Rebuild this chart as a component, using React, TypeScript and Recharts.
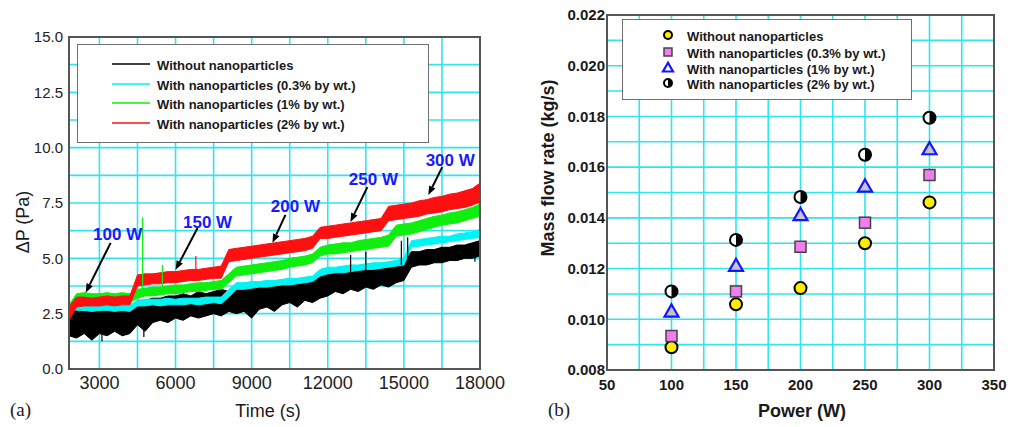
import React from 'react';
import {
  ComposedChart,
  ScatterChart,
  Scatter,
  Area,
  XAxis,
  YAxis,
  CartesianGrid,
  ReferenceLine,
  ReferenceDot,
  ReferenceArea,
  Legend,
} from 'recharts';

const FONT = '"Liberation Sans", Arial, Helvetica, sans-serif';
const GRID = '#2ee6ee';
const FRAME = '#555555';

// ---------------- Panel (a): pressure drop vs time ----------------
const times = [1800, 2100, 2400, 2700, 3000, 3300, 3600, 3900, 4200, 4500, 4800, 5100, 5400, 5700, 6000, 6300, 6600, 6900, 7200, 7500, 7800, 8100, 8400, 8700, 9000, 9300, 9600, 9900, 10200, 10500, 10800, 11100, 11400, 11700, 12000, 12300, 12600, 12900, 13200, 13500, 13800, 14100, 14400, 14700, 15000, 15300, 15600, 15900, 16200, 16500, 16800, 17100, 17400, 17700, 18000];

const blackLo = [1.5, 1.4, 1.6, 1.3, 1.6, 1.5, 1.7, 1.5, 1.6, 2.0, 1.7, 2.1, 2.2, 2.1, 2.3, 2.2, 2.4, 2.3, 2.4, 2.5, 2.4, 2.6, 2.5, 2.6, 2.3, 2.7, 2.8, 2.6, 2.9, 3.0, 2.8, 3.1, 3.0, 3.2, 3.3, 3.5, 3.4, 3.6, 3.5, 3.7, 3.6, 3.8, 3.7, 3.9, 4.0, 4.6, 4.7, 4.7, 4.8, 4.8, 4.9, 4.9, 5.0, 5.0, 5.1];
const blackHi = [2.6, 2.7, 2.6, 2.7, 2.6, 2.7, 2.7, 2.6, 2.7, 3.1, 3.1, 3.2, 3.2, 3.3, 3.3, 3.4, 3.3, 3.5, 3.4, 3.5, 3.6, 3.5, 3.6, 3.6, 3.7, 3.7, 3.8, 3.8, 3.9, 3.9, 4.0, 4.0, 4.1, 4.2, 4.3, 4.4, 4.4, 4.5, 4.5, 4.6, 4.6, 4.7, 4.8, 4.8, 4.9, 5.3, 5.3, 5.4, 5.4, 5.5, 5.5, 5.6, 5.6, 5.7, 5.8];

const cyanLo = [2.7, 2.65, 2.65, 2.6, 2.65, 2.65, 2.6, 2.65, 2.6, 2.85, 2.85, 2.9, 2.85, 2.9, 2.9, 2.9, 2.95, 2.9, 2.95, 3.0, 2.95, 3.25, 3.6, 3.6, 3.65, 3.7, 3.7, 3.75, 3.8, 3.8, 3.85, 3.9, 3.95, 4.2, 4.3, 4.35, 4.35, 4.4, 4.45, 4.5, 4.5, 4.55, 4.6, 4.65, 4.7, 5.5, 5.55, 5.6, 5.65, 5.7, 5.75, 5.8, 5.85, 5.9, 5.95];
const cyanHi = [3.0, 2.95, 2.95, 2.9, 2.95, 2.95, 2.9, 2.95, 2.9, 3.1, 3.15, 3.15, 3.15, 3.2, 3.15, 3.2, 3.2, 3.2, 3.25, 3.25, 3.25, 3.6, 3.9, 3.9, 3.95, 3.95, 4.0, 4.0, 4.05, 4.1, 4.1, 4.15, 4.2, 4.5, 4.6, 4.6, 4.65, 4.7, 4.7, 4.75, 4.8, 4.8, 4.85, 4.9, 5.0, 5.8, 5.85, 5.9, 5.95, 6.0, 6.0, 6.1, 6.15, 6.2, 6.3];

const greenLo = [2.3, 2.9, 3.0, 3.0, 3.0, 3.05, 3.0, 3.05, 3.0, 3.2, 3.3, 3.3, 3.35, 3.4, 3.4, 3.45, 3.5, 3.5, 3.55, 3.6, 3.6, 3.9, 4.2, 4.25, 4.3, 4.35, 4.4, 4.45, 4.5, 4.6, 4.65, 4.7, 4.8, 5.1, 5.2, 5.2, 5.25, 5.3, 5.35, 5.4, 5.45, 5.5, 5.55, 6.0, 6.05, 6.1, 6.2, 6.3, 6.4, 6.5, 6.55, 6.6, 6.7, 6.8, 6.9];
const greenHi = [2.9, 3.4, 3.45, 3.4, 3.4, 3.45, 3.4, 3.45, 3.4, 3.6, 3.65, 3.7, 3.7, 3.75, 3.8, 3.8, 3.85, 3.9, 3.9, 3.95, 4.0, 4.3, 4.6, 4.65, 4.7, 4.75, 4.8, 4.85, 4.9, 5.0, 5.05, 5.1, 5.2, 5.5, 5.6, 5.65, 5.7, 5.7, 5.8, 5.85, 5.9, 5.95, 6.05, 6.5, 6.55, 6.6, 6.7, 6.8, 6.9, 6.95, 7.05, 7.1, 7.2, 7.3, 7.45];

const redLo = [2.2, 2.8, 2.85, 2.85, 2.85, 2.9, 2.85, 2.9, 2.9, 3.75, 3.8, 3.85, 3.85, 3.9, 3.9, 3.95, 4.0, 4.0, 4.05, 4.1, 4.1, 4.85, 4.9, 4.95, 5.0, 5.05, 5.1, 5.15, 5.2, 5.25, 5.3, 5.35, 5.45, 5.9, 5.9, 5.95, 6.0, 6.05, 6.1, 6.15, 6.2, 6.25, 6.7, 6.75, 6.8, 6.85, 6.9, 7.0, 7.05, 7.1, 7.2, 7.25, 7.3, 7.4, 7.55];
const redHi = [2.8, 3.25, 3.25, 3.2, 3.25, 3.3, 3.25, 3.3, 3.3, 4.25, 4.3, 4.3, 4.35, 4.4, 4.4, 4.45, 4.5, 4.5, 4.55, 4.6, 4.65, 5.4, 5.45, 5.5, 5.55, 5.6, 5.65, 5.7, 5.75, 5.8, 5.85, 5.9, 6.0, 6.4, 6.45, 6.5, 6.55, 6.6, 6.65, 6.7, 6.75, 6.8, 7.35, 7.4, 7.45, 7.5, 7.6, 7.65, 7.75, 7.8, 7.9, 7.95, 8.05, 8.15, 8.4];

// isolated spikes: [time, low, high]
const blackSpikes = [[3100, 1.25, 2.2], [4750, 1.45, 2.3], [12900, 4.3, 5.15], [13500, 4.4, 5.3], [14900, 4.7, 5.8], [15150, 4.8, 5.95], [17800, 4.85, 5.3]];
const greenSpikes = [[4700, 3.5, 6.85], [5480, 3.6, 4.7]];
const redSpikes = [[6800, 4.3, 5.1]];

const seriesA = [
  { key: 'black', name: 'Without nanoparticles', color: '#000000' },
  { key: 'cyan', name: 'With nanoparticles (0.3% by wt.)', color: '#00f4f4' },
  { key: 'green', name: 'With nanoparticles (1% by wt.)', color: '#10ee10' },
  { key: 'red', name: 'With nanoparticles (2% by wt.)', color: '#ff1010' },
];

const rowsA = times.map((t, i) => ({
  t,
  black: [blackLo[i], blackHi[i]],
  cyan: [cyanLo[i], cyanHi[i]],
  green: [greenLo[i], greenHi[i]],
  red: [redLo[i], redHi[i]],
}));

const xTicksA = [3000, 6000, 9000, 12000, 15000, 18000];
const xGridA = [3000, 4500, 6000, 7500, 9000, 10500, 12000, 13500, 15000, 16500, 18000];
const yTicksA = [0, 2.5, 5, 7.5, 10, 12.5, 15];
const yGridA = [1.25, 2.5, 3.75, 5, 6.25, 7.5, 8.75, 10, 11.25, 12.5, 13.75, 15];

const annotations = [
  { text: '100 W', tx: 3717, ty: 6.06, x1: 3442, y1: 5.7, x2: 2457, y2: 3.45 },
  { text: '150 W', tx: 7261, ty: 6.6, x1: 6867, y1: 6.37, x2: 6001, y2: 4.48 },
  { text: '200 W', tx: 10725, ty: 7.32, x1: 10332, y1: 6.96, x2: 9820, y2: 5.7 },
  { text: '250 W', tx: 13797, ty: 8.58, x1: 13561, y1: 8.22, x2: 12892, y2: 6.64 },
  { text: '300 W', tx: 16827, ty: 9.44, x1: 16512, y1: 9.12, x2: 15961, y2: 7.86 },
];

// ---------------- Panel (b): mass flow rate vs power ----------------
const powers = [100, 150, 200, 250, 300];
const flowWithout = [0.0089, 0.01059, 0.01123, 0.013, 0.01461];
const flow03 = [0.00934, 0.0111, 0.01286, 0.01381, 0.01569];
const flow1 = [0.0103, 0.0121, 0.0141, 0.01523, 0.0167];
const flow2 = [0.0111, 0.01313, 0.01482, 0.01649, 0.01795];

const xTicksB = [50, 100, 150, 200, 250, 300, 350];
const xGridB = [75, 100, 125, 150, 175, 200, 225, 250, 275, 300, 325, 350];
const yTicksB = [0.008, 0.01, 0.012, 0.014, 0.016, 0.018, 0.02, 0.022];
const yGridB = [0.009, 0.01, 0.011, 0.012, 0.013, 0.014, 0.015, 0.016, 0.017, 0.018, 0.019, 0.02, 0.021, 0.022];

const toPts = (ys: number[]) => powers.map((x, i) => ({ x, y: ys[i] }));

// ---------------- shapes ----------------
const CircleMark = ({ cx, cy, r = 6 }: any) => (
  <circle cx={cx} cy={cy} r={r} fill="#ffee00" stroke="#000" strokeWidth={2} />
);
const SquareMark = ({ cx, cy, s = 11 }: any) => (
  <rect x={cx - s / 2} y={cy - s / 2} width={s} height={s} fill="#f07ef0" stroke="#444" strokeWidth={1.5} />
);
const TriMark = ({ cx, cy, s = 14, fill = '#c4c4d4' }: any) => {
  const h = s * 0.87;
  return (
    <polygon
      points={`${cx},${cy - h * 0.6} ${cx - s / 2},${cy + h * 0.4} ${cx + s / 2},${cy + h * 0.4}`}
      fill={fill}
      stroke="#1515ff"
      strokeWidth={2.2}
      strokeLinejoin="miter"
    />
  );
};
const HalfMark = ({ cx, cy, r = 6 }: any) => (
  <g>
    <circle cx={cx} cy={cy} r={r} fill="#fff" stroke="#000" strokeWidth={2} />
    <path d={`M ${cx} ${cy - r} A ${r} ${r} 0 0 1 ${cx} ${cy + r} Z`} fill="#000" />
  </g>
);

const seriesB = [
  { name: 'Without nanoparticles', data: flowWithout, Mark: CircleMark },
  { name: 'With nanoparticles (0.3% by wt.)', data: flow03, Mark: SquareMark },
  { name: 'With nanoparticles (1% by wt.)', data: flow1, Mark: TriMark },
  { name: 'With nanoparticles (2% by wt.)', data: flow2, Mark: HalfMark },
];

const ArrowShape = (p: any) => {
  const { x1, y1, x2, y2 } = p;
  const dx = x2 - x1;
  const dy = y2 - y1;
  const len = Math.sqrt(dx * dx + dy * dy) || 1;
  const ux = dx / len;
  const uy = dy / len;
  const hl = 9;
  const hw = 3.5;
  const bx = x2 - ux * hl;
  const by = y2 - uy * hl;
  return (
    <g>
      <line x1={x1} y1={y1} x2={bx} y2={by} stroke="#000" strokeWidth={2} />
      <polygon points={`${x2},${y2} ${bx - uy * hw},${by + ux * hw} ${bx + uy * hw},${by - ux * hw}`} fill="#000" />
    </g>
  );
};

const AxisTitle = ({ px, py, text, rot = 0, bold = false, fsz = 18 }: any) => (
  <text
    x={px}
    y={py}
    transform={rot ? `rotate(${rot} ${px} ${py})` : undefined}
    textAnchor="middle"
    dominantBaseline="central"
    fontFamily={FONT}
    fontSize={fsz}
    fontWeight={bold ? 'bold' : 'normal'}
    fill="#1a1a1a"
  >
    {text}
  </text>
);

const LegendA = () => {
  const rows = [20, 40, 59, 79];
  return (
    <div style={{ width: 352, height: 99, border: '1.5px solid #707070', background: '#fff', boxSizing: 'border-box' }}>
      <svg width={349} height={96} style={{ display: 'block' }}>
        {seriesA.map((s, i) => (
          <g key={s.key}>
            <line x1={34} x2={72} y1={rows[i] - 1} y2={rows[i] - 1} stroke={s.color} strokeWidth={1.5} />
            <text x={79} y={rows[i]} dominantBaseline="central" fontFamily={FONT} fontSize={13} fontWeight="bold" fill="#1a1a1a">
              {s.name}
            </text>
          </g>
        ))}
      </svg>
    </div>
  );
};

const LegendB = () => {
  const rows = [16, 33, 49, 64];
  return (
    <div style={{ width: 290, height: 81, border: '1.5px solid #707070', background: '#fff', boxSizing: 'border-box' }}>
      <svg width={287} height={78} style={{ display: 'block' }}>
        {seriesB.map((s, i) => {
          const M = s.Mark as any;
          const props: any = { cx: 45, cy: rows[i] - 1 };
          if (i === 0 || i === 3) props.r = 4;
          if (i === 1) props.s = 8;
          if (i === 2) {
            props.s = 10;
            props.fill = '#ffffff';
          }
          return (
            <g key={s.name}>
              <M {...props} />
              <text x={64} y={rows[i]} dominantBaseline="central" fontFamily={FONT} fontSize={13} fontWeight="bold" fill="#1a1a1a">
                {s.name}
              </text>
            </g>
          );
        })}
      </svg>
    </div>
  );
};

export default function App() {
  return (
    <div style={{ position: 'absolute', left: 0, top: 0, width: 1010, height: 427, background: '#fff', fontFamily: FONT }}>
      <div style={{ position: 'absolute', left: 0, top: 0 }}>
        <ComposedChart width={505} height={427} data={rowsA} margin={{ top: 37, right: 25, bottom: 8, left: 0 }}>
          <CartesianGrid stroke={GRID} strokeWidth={1.6} horizontalValues={yGridA} verticalValues={xGridA} />
          <XAxis
            type="number"
            dataKey="t"
            domain={[1800, 18000]}
            ticks={xTicksA}
            allowDataOverflow
            axisLine={false}
            tickLine={false}
            tickSize={5}
            tickMargin={2}
            height={50}
            interval={0}
            tick={{ fontSize: 18, fill: '#222', fontFamily: FONT }}
            label={<AxisTitle px={268} py={411} text="Time (s)" />}
          />
          <YAxis
            type="number"
            domain={[0, 15]}
            ticks={yTicksA}
            allowDataOverflow
            axisLine={false}
            tickLine={false}
            tickSize={4}
            tickMargin={2}
            width={69}
            interval={0}
            tickFormatter={(v: number) => v.toFixed(1)}
            tick={{ fontSize: 15, fill: '#222', fontFamily: FONT }}
            label={<AxisTitle px={23} py={222} rot={-90} text="ΔP (Pa)" />}
          />
          {seriesA.map((s) => (
            <Area
              key={s.key}
              type="linear"
              dataKey={s.key}
              name={s.name}
              stroke={s.color}
              strokeWidth={1}
              fill={s.color}
              fillOpacity={1}
              isAnimationActive={false}
              dot={false}
              activeDot={false}
            />
          ))}
          {blackSpikes.map((sp, i) => (
            <ReferenceLine key={'bs' + i} segment={[{ x: sp[0], y: sp[1] }, { x: sp[0], y: sp[2] }]} stroke="#000" strokeWidth={1.2} />
          ))}
          {greenSpikes.map((sp, i) => (
            <ReferenceLine key={'gs' + i} segment={[{ x: sp[0], y: sp[1] }, { x: sp[0], y: sp[2] }]} stroke="#10ee10" strokeWidth={1.2} />
          ))}
          {redSpikes.map((sp, i) => (
            <ReferenceLine key={'rs' + i} segment={[{ x: sp[0], y: sp[1] }, { x: sp[0], y: sp[2] }]} stroke="#ff1010" strokeWidth={1.2} />
          ))}
          {annotations.map((a) => (
            <ReferenceLine
              key={'ar' + a.text}
              segment={[{ x: a.x1, y: a.y1 }, { x: a.x2, y: a.y2 }]}
              shape={ArrowShape}
            />
          ))}
          {annotations.map((a) => (
            <ReferenceDot
              key={'tx' + a.text}
              x={a.tx}
              y={a.ty}
              r={0}
              shape={(p: any) => (
                <text x={p.cx} y={p.cy} textAnchor="middle" dominantBaseline="central" fontFamily={FONT} fontSize={17} fontWeight="bold" fill="#1a1aff">
                  {a.text}
                </text>
              )}
            />
          ))}
          <ReferenceArea x1={1800} x2={18000} y1={0} y2={15} fill="none" stroke={FRAME} strokeWidth={2} ifOverflow="visible" />
          <Legend
            content={<LegendA />}
            layout="horizontal"
            verticalAlign="middle"
            align="center"
            wrapperStyle={{ left: 77, top: 44, width: 352, height: 99 }}
          />
        </ComposedChart>
      </div>

      <div style={{ position: 'absolute', left: 500, top: 0 }}>
        <ScatterChart width={510} height={427} margin={{ top: 15, right: 16, bottom: 7, left: 0 }}>
          <CartesianGrid stroke={GRID} strokeWidth={1.6} horizontalValues={yGridB} verticalValues={xGridB} />
          <XAxis
            type="number"
            dataKey="x"
            domain={[50, 350]}
            ticks={xTicksB}
            allowDataOverflow
            axisLine={false}
            tickLine={false}
            tickSize={6}
            tickMargin={3}
            height={50}
            interval={0}
            tick={{ fontSize: 15, fill: '#1a1a1a', fontWeight: 'bold', fontFamily: FONT }}
            label={<AxisTitle px={302} py={411} text="Power (W)" bold />}
          />
          <YAxis
            type="number"
            dataKey="y"
            domain={[0.008, 0.022]}
            ticks={yTicksB}
            allowDataOverflow
            axisLine={false}
            tickLine={false}
            tickSize={0}
            tickMargin={2}
            width={107}
            interval={0}
            tickFormatter={(v: number) => v.toFixed(3)}
            tick={{ fontSize: 15, fill: '#1a1a1a', fontWeight: 'bold', fontFamily: FONT }}
            label={<AxisTitle px={48} py={168} rot={-90} text="Mass flow rate (kg/s)" bold />}
          />
          {seriesB.map((s) => {
            const M = s.Mark as any;
            return (
              <Scatter
                key={s.name}
                name={s.name}
                data={toPts(s.data)}
                isAnimationActive={false}
                shape={(p: any) => <M cx={p.cx} cy={p.cy} />}
              />
            );
          })}
          <ReferenceArea x1={50} x2={350} y1={0.008} y2={0.022} fill="none" stroke={FRAME} strokeWidth={2} ifOverflow="visible" />
          <Legend
            content={<LegendB />}
            layout="horizontal"
            verticalAlign="middle"
            align="center"
            wrapperStyle={{ left: 122, top: 19, width: 290, height: 81 }}
          />
        </ScatterChart>
      </div>

      <div style={{ position: 'absolute', left: 10, top: 399, fontFamily: '"Liberation Serif", "Times New Roman", serif', fontSize: 19, color: '#222' }}>(a)</div>
      <div style={{ position: 'absolute', left: 548, top: 399, fontFamily: '"Liberation Serif", "Times New Roman", serif', fontSize: 19, color: '#222' }}>(b)</div>
    </div>
  );
}
